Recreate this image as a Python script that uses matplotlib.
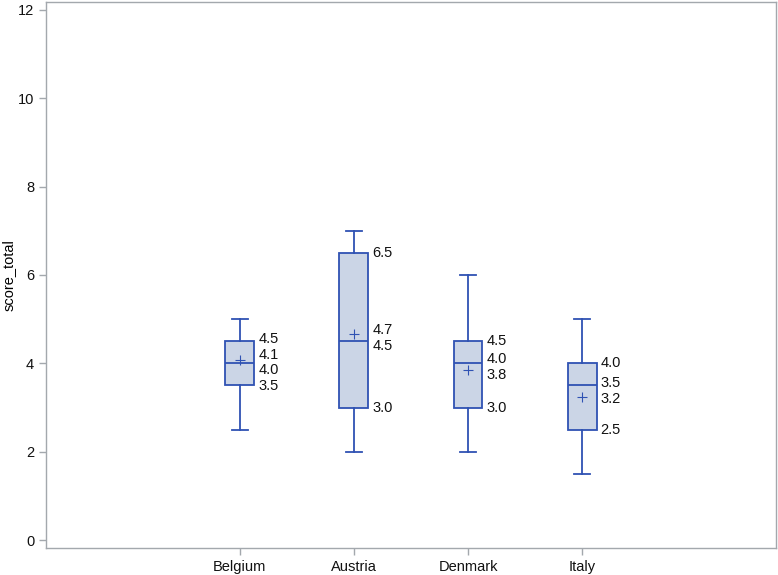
import numpy as np
import matplotlib
matplotlib.use("Agg")
import matplotlib.pyplot as plt

plt.rcParams['font.family'] = ['Liberation Sans', 'DejaVu Sans']

# box plot stats per country
countries = ['Belgium', 'Austria', 'Denmark', 'Italy']
whisk_lo = [2.5, 2.0, 2.0, 1.5]
q1 = [3.5, 3.0, 3.0, 2.5]
median = [4.0, 4.5, 4.0, 3.5]
q3 = [4.5, 6.5, 4.5, 4.0]
whisk_hi = [5.0, 7.0, 6.0, 5.0]
means = [4.08, 4.66, 3.84, 3.24]

line_col = '#2F52B3'
fill_col = '#CBD5E6'
frame_col = '#A3A8AD'

stats = []
for i, name in enumerate(countries):
    stats.append(dict(label=name, whislo=whisk_lo[i], q1=q1[i], med=median[i],
                      q3=q3[i], whishi=whisk_hi[i], mean=means[i], fliers=[]))

fig = plt.figure(figsize=(7.78, 5.75), dpi=100)
ax = fig.add_axes([0.0591, 0.047, 0.9383, 0.9495])

pos = np.arange(1, len(countries) + 1)
box_w = 0.254
ax.bxp(stats, positions=pos, widths=box_w, patch_artist=True, showmeans=True,
       showfliers=False, capwidths=0.14,
       boxprops=dict(facecolor=fill_col, edgecolor=line_col, linewidth=1.3),
       medianprops=dict(color=line_col, linewidth=1.3),
       whiskerprops=dict(color=line_col, linewidth=1.3),
       capprops=dict(color=line_col, linewidth=1.3),
       meanprops=dict(marker='+', markeredgecolor=line_col, markersize=7,
                      markeredgewidth=0.8))


def spread(vals, gap):
    # push labels apart so they don't overlap
    order = np.argsort(vals)
    y = np.array(vals, dtype=float)[order]
    for _ in range(200):
        moved = False
        for k in range(len(y) - 1):
            d = y[k + 1] - y[k]
            if d < gap:
                shift = (gap - d) / 2
                y[k] -= shift
                y[k + 1] += shift
                moved = True
        if not moved:
            break
    out = np.empty_like(y)
    out[order] = y
    return out


for i in range(len(countries)):
    vals = [q3[i], means[i], median[i], q1[i]]
    ys = spread(vals, 0.36)
    for v, yy in zip(vals, ys):
        ax.text(pos[i] + box_w / 2 + 0.035, yy, f'{v:.1f}', fontsize=10.5,
                va='center', ha='left', color='#111111')

ax.set_xlim(-0.7, 5.7)
ax.set_ylim(-0.18, 12.18)
ax.set_xticks(pos)
ax.set_xticklabels(countries)
ax.set_yticks(np.arange(0, 13, 2))
ax.set_ylabel('score_total', fontsize=10.5, va='center')
ax.yaxis.set_label_coords(-0.051, 0.5)

for sp in ax.spines.values():
    sp.set_color(frame_col)
    sp.set_linewidth(1.0)
ax.tick_params(axis='both', colors=frame_col, labelcolor='#111111',
               labelsize=10.5, length=5, width=1)

fig.savefig('out.png', dpi=100)
